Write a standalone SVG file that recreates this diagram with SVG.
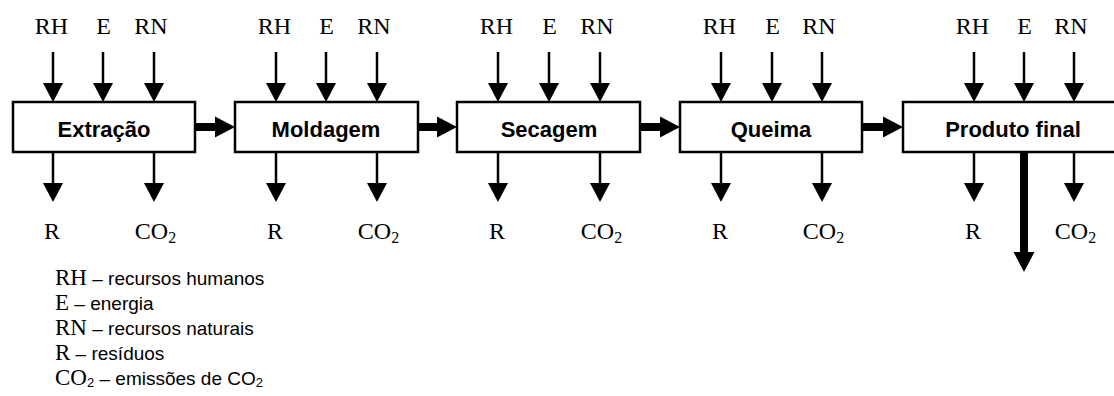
<svg xmlns="http://www.w3.org/2000/svg" width="1114" height="396" viewBox="0 0 1114 396">
<style>
.box{fill:#fff;stroke:#000;stroke-width:2.5}
.bt{font-family:"Liberation Sans",Arial,sans-serif;font-weight:bold;font-size:22px;text-anchor:middle;fill:#000}
.lbl{font-family:"Liberation Serif","Times New Roman",serif;font-size:24px;text-anchor:middle;fill:#000}
.thin{stroke:#000;stroke-width:2.5;fill:none;marker-end:url(#ah)}
.thick{stroke:#000;stroke-width:8;fill:none;marker-end:url(#ahb)}
.lg{font-family:"Liberation Sans",Arial,sans-serif;font-size:19px;fill:#000}
.ser{font-family:"Liberation Serif","Times New Roman",serif;font-size:23px}
</style>
<defs>
<marker id="ah" markerUnits="userSpaceOnUse" markerWidth="20" markerHeight="20" refX="1" refY="10" orient="auto" viewBox="0 0 20 20">
<path d="M0,0 L19,10 L0,20 Z" fill="#000"/>
</marker>
<marker id="ahb" markerUnits="userSpaceOnUse" markerWidth="22" markerHeight="22" refX="1" refY="11" orient="auto" viewBox="0 0 22 22">
<path d="M0,0.5 L20,11 L0,21.5 Z" fill="#000"/>
</marker>
</defs>
<g id="connectors">
<line class="thin" x1="53" y1="52" x2="53" y2="84"/>
<line class="thin" x1="103" y1="52" x2="103" y2="84"/>
<line class="thin" x1="154" y1="52" x2="154" y2="84"/>
<line class="thin" x1="53" y1="152" x2="53" y2="184"/>
<line class="thin" x1="154" y1="152" x2="154" y2="184"/>
<line class="thin" x1="276" y1="52" x2="276" y2="84"/>
<line class="thin" x1="326" y1="52" x2="326" y2="84"/>
<line class="thin" x1="377" y1="52" x2="377" y2="84"/>
<line class="thin" x1="276" y1="152" x2="276" y2="184"/>
<line class="thin" x1="377" y1="152" x2="377" y2="184"/>
<line class="thin" x1="498" y1="52" x2="498" y2="84"/>
<line class="thin" x1="549" y1="52" x2="549" y2="84"/>
<line class="thin" x1="600" y1="52" x2="600" y2="84"/>
<line class="thin" x1="498" y1="152" x2="498" y2="184"/>
<line class="thin" x1="600" y1="152" x2="600" y2="184"/>
<line class="thin" x1="721" y1="52" x2="721" y2="84"/>
<line class="thin" x1="772" y1="52" x2="772" y2="84"/>
<line class="thin" x1="822" y1="52" x2="822" y2="84"/>
<line class="thin" x1="721" y1="152" x2="721" y2="184"/>
<line class="thin" x1="822" y1="152" x2="822" y2="184"/>
<line class="thin" x1="974" y1="52" x2="974" y2="84"/>
<line class="thin" x1="1024" y1="52" x2="1024" y2="84"/>
<line class="thin" x1="1074" y1="52" x2="1074" y2="84"/>
<line class="thin" x1="974" y1="152" x2="974" y2="184"/>
<line class="thin" x1="1074" y1="152" x2="1074" y2="184"/>
<line class="thick" x1="195" y1="127" x2="216" y2="127"/>
<line class="thick" x1="418" y1="127" x2="438" y2="127"/>
<line class="thick" x1="640" y1="127" x2="661" y2="127"/>
<line class="thick" x1="862" y1="127" x2="884" y2="127"/>
<line class="thick" x1="1024" y1="152" x2="1024" y2="253"/>
</g>
<g id="extracao">
<rect class="box" x="13" y="102" width="182" height="50"/>
<text class="bt" x="104" y="137">Extração</text>
</g>
<g id="moldagem">
<rect class="box" x="235" y="102" width="183" height="50"/>
<text class="bt" x="326" y="137">Moldagem</text>
</g>
<g id="secagem">
<rect class="box" x="457" y="102" width="183" height="50"/>
<text class="bt" x="549" y="137">Secagem</text>
</g>
<g id="queima">
<rect class="box" x="680" y="102" width="182" height="50"/>
<text class="bt" x="771" y="137">Queima</text>
</g>
<g id="produto-final">
<rect class="box" x="903" y="102" width="240" height="50"/>
<text class="bt" x="1013" y="137">Produto final</text>
</g>
<g id="labels">
<text class="lbl" x="51.5" y="34">RH</text>
<text class="lbl" x="103.5" y="34">E</text>
<text class="lbl" x="151" y="34">RN</text>
<text class="lbl" x="274.5" y="34">RH</text>
<text class="lbl" x="326.5" y="34">E</text>
<text class="lbl" x="374" y="34">RN</text>
<text class="lbl" x="496.5" y="34">RH</text>
<text class="lbl" x="549.5" y="34">E</text>
<text class="lbl" x="597" y="34">RN</text>
<text class="lbl" x="719.5" y="34">RH</text>
<text class="lbl" x="772.5" y="34">E</text>
<text class="lbl" x="819" y="34">RN</text>
<text class="lbl" x="972.5" y="34">RH</text>
<text class="lbl" x="1024.5" y="34">E</text>
<text class="lbl" x="1071" y="34">RN</text>
<text class="lbl" x="52" y="239">R</text>
<text class="lbl" x="155.5" y="239">CO<tspan font-size="16" dy="4">2</tspan></text>
<text class="lbl" x="275" y="239">R</text>
<text class="lbl" x="378.5" y="239">CO<tspan font-size="16" dy="4">2</tspan></text>
<text class="lbl" x="497" y="239">R</text>
<text class="lbl" x="601.5" y="239">CO<tspan font-size="16" dy="4">2</tspan></text>
<text class="lbl" x="720" y="239">R</text>
<text class="lbl" x="823.5" y="239">CO<tspan font-size="16" dy="4">2</tspan></text>
<text class="lbl" x="973" y="239">R</text>
<text class="lbl" x="1075.5" y="239">CO<tspan font-size="16" dy="4">2</tspan></text>
</g>
<g id="legend">
<text class="lg" x="55" y="285"><tspan class="ser">RH</tspan> – recursos humanos</text>
<text class="lg" x="55" y="310"><tspan class="ser">E</tspan> – energia</text>
<text class="lg" x="55" y="335"><tspan class="ser">RN</tspan> – recursos naturais</text>
<text class="lg" x="55" y="360"><tspan class="ser">R</tspan> – resíduos</text>
<text class="lg" x="55" y="385"><tspan class="ser">CO</tspan><tspan font-size="13" dy="2">2</tspan><tspan dy="-2"> – emissões de CO</tspan><tspan font-size="13" dy="2">2</tspan></text>
</g>
</svg>
